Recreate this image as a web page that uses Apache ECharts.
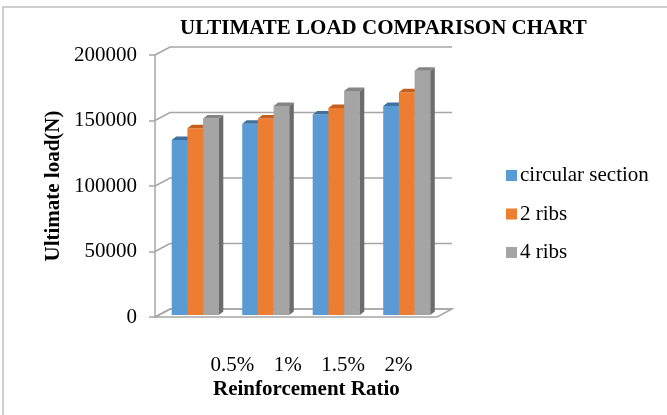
<!DOCTYPE html>
<html>
<head>
<meta charset="utf-8">
<script src="https://cdn.jsdelivr.net/npm/echarts@6/dist/echarts.min.js"></script>
<style>
  html, body { margin: 0; padding: 0; background: #fff; }
  #chart { width: 667px; height: 415px; }
</style>
</head>
<body>
<div id="chart"></div>
<script>
// Reinforcement ratios on the category axis
const categories = ['0.5%', '1%', '1.5%', '2%'];
// Ultimate load (N) per section type
const circularSection = [133500, 146000, 153000, 159500];
const twoRibs = [142500, 150000, 158000, 170000];
const fourRibs = [150000, 159500, 171000, 186500];
// Value axis ticks
const yTicks = [0, 50000, 100000, 150000, 200000];

const FONT = "'Liberation Serif', 'Times New Roman', serif";
const LINE = '#a6a6a6';

// Per-series face colours: front, top, side
const faces = [
  { name: 'circular section', front: '#5b9bd5', top: '#41729f', side: '#3d6b96' },
  { name: '2 ribs', front: '#ed7d31', top: '#c55f1d', side: '#b9561a' },
  { name: '4 ribs', front: '#a5a5a5', top: '#858585', side: '#6c6c6c' }
];
const seriesValues = [circularSection, twoRibs, fourRibs];

// Depth offsets of the pseudo-3D box
const FRONT_DX = -5, FRONT_DY = 2, BACK_DX = 10, BACK_DY = -6;
const BAR_DX = 4.5, BAR_DY = 3.5;

function frameItem(params, api) {
  const cs = params.coordSys;
  const v = api.value(1);
  const y = api.coord([0, v])[1];
  const fx = cs.x + FRONT_DX, fy = y + FRONT_DY;
  const bx = cs.x + BACK_DX, by = y + BACK_DY;
  const children = [];
  if (v === 0) {
    children.push({
      type: 'polygon',
      shape: { points: [[fx, fy], [cs.x + cs.width + FRONT_DX, fy], [cs.x + cs.width + BACK_DX, by], [bx, by]] },
      style: { fill: '#fff', stroke: LINE, lineWidth: 1.5 }
    });
  }
  children.push({
    type: 'polyline',
    shape: { points: [[fx, fy], [bx, by], [cs.x + cs.width + BACK_DX, by]] },
    style: { fill: null, stroke: LINE, lineWidth: 1.5 }
  });
  return { type: 'group', children: children };
}

function barItemFactory(k) {
  const c = faces[k];
  return function (params, api) {
    const ci = api.value(0);
    const v = api.value(1);
    const top = api.coord([ci, v]);
    const base = api.coord([ci, 0]);
    const band = api.size([1, 0])[0];
    const w = band * 0.2227;
    const x0 = top[0] - 1.5 * w + k * w;
    const yT = top[1], yB = base[1];
    return {
      type: 'group',
      children: [
        { type: 'rect', shape: { x: x0, y: yT, width: w, height: yB - yT }, style: { fill: c.front } },
        { type: 'polygon', shape: { points: [[x0 + w, yT], [x0 + w + BAR_DX, yT - BAR_DY], [x0 + w + BAR_DX, yB - BAR_DY], [x0 + w, yB]] }, style: { fill: c.side } },
        { type: 'polygon', shape: { points: [[x0, yT], [x0 + w, yT], [x0 + w + BAR_DX, yT - BAR_DY], [x0 + BAR_DX, yT - BAR_DY]] }, style: { fill: c.top } }
      ]
    };
  };
}

const chart = echarts.init(document.getElementById('chart'), null, { renderer: 'canvas' });

const barSeries = faces.map((f, k) => ({
  name: f.name,
  type: 'custom',
  xAxisIndex: 0,
  yAxisIndex: 0,
  itemStyle: { color: f.front },
  encode: { x: 0, y: 1 },
  data: seriesValues[k].map((v, i) => [i, v]),
  renderItem: barItemFactory(k)
}));

chart.setOption({
  backgroundColor: '#fff',
  animation: false,
  graphic: [{
    // chart-area outline (top and left edges)
    type: 'polyline',
    shape: { points: [[3, 500], [3, 7], [700, 7]] },
    style: { fill: null, stroke: '#bfbfbf', lineWidth: 1.5 },
    silent: true
  }],
  title: [
    {
      text: 'ULTIMATE LOAD COMPARISON CHART',
      left: 180, top: 18, padding: 0,
      textStyle: { fontFamily: FONT, fontSize: 21, fontWeight: 'bold', color: '#000' }
    },
    {
      text: 'Reinforcement Ratio',
      left: 213, top: 379, padding: 0,
      textStyle: { fontFamily: FONT, fontSize: 21, fontWeight: 'bold', color: '#000' }
    }
  ],
  legend: {
    orient: 'vertical',
    left: 501, top: 160,
    itemWidth: 11, itemHeight: 11, itemGap: 17.5,
    icon: 'rect',
    data: faces.map(f => f.name),
    textStyle: { fontFamily: FONT, fontSize: 21, color: '#000', padding: [0, 0, 0, -2] }
  },
  grid: [
    // plane of the bars
    { left: 160, width: 282, top: 53, height: 262 },
    // front edge of the left wall (value axis)
    { left: 155, width: 280, top: 55, height: 262 },
    // category labels
    { left: 204.7, width: 221.6, top: 340, height: 12 }
  ],
  xAxis: [
    { gridIndex: 0, type: 'category', data: categories, show: false, boundaryGap: true },
    { gridIndex: 1, type: 'value', show: false },
    {
      gridIndex: 2, type: 'category', data: categories, boundaryGap: true,
      axisLine: { show: false }, axisTick: { show: false },
      axisLabel: { fontFamily: FONT, fontSize: 21, color: '#000', margin: 3, interval: 0 }
    }
  ],
  yAxis: [
    { gridIndex: 0, type: 'value', min: 0, max: 200000, interval: 50000, show: false },
    {
      gridIndex: 1, type: 'value', min: 0, max: 200000, interval: 50000,
      name: 'Ultimate load(N)', nameLocation: 'middle', nameGap: 91,
      nameTextStyle: { fontFamily: FONT, fontSize: 21, fontWeight: 'bold', color: '#000' },
      axisLine: { show: true, lineStyle: { color: LINE, width: 1.5 } },
      axisTick: { show: true, length: 6, lineStyle: { color: LINE, width: 1.5 } },
      splitLine: { show: false },
      axisLabel: { fontFamily: FONT, fontSize: 21, color: '#000', margin: 18, formatter: v => String(v) }
    },
    { gridIndex: 2, type: 'value', show: false }
  ],
  series: [
    {
      name: 'frame',
      type: 'custom',
      xAxisIndex: 0,
      yAxisIndex: 0,
      silent: true,
      encode: { x: 0, y: 1 },
      data: yTicks.map(v => [0, v]),
      renderItem: frameItem
    }
  ].concat(barSeries)
});
</script>
</body>
</html>
